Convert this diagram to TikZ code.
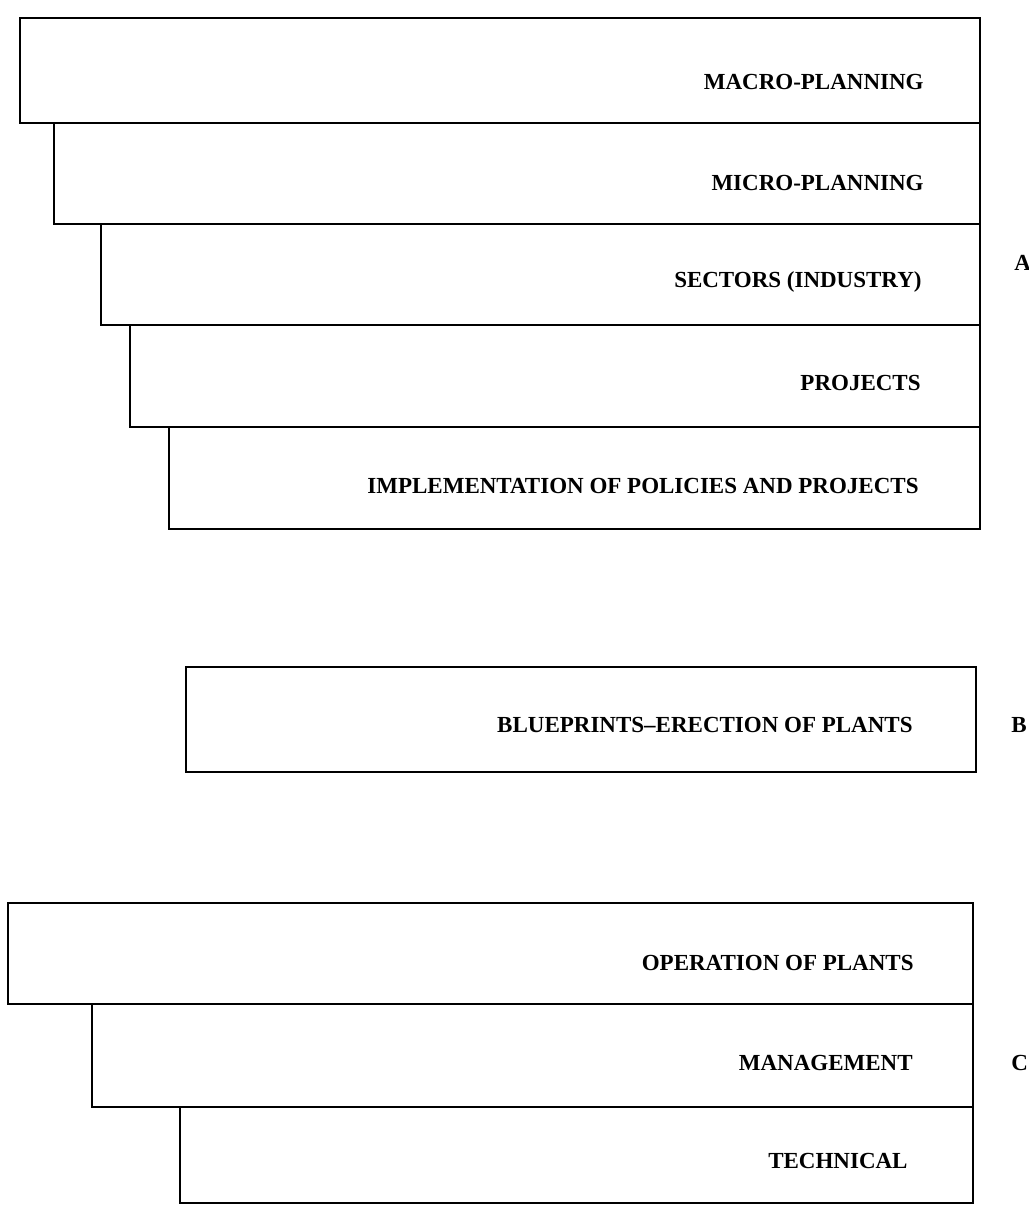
\documentclass[tikz,border=0pt]{standalone}
\usepackage{fontspec}
\setmainfont{Liberation Serif}
\newfontfamily\labfont{Liberation Serif}
\begin{document}
\begin{tikzpicture}[x=0.5pt,y=-0.5pt,
  box/.style={draw, line width=1.4pt, inner sep=0pt, outer sep=0pt, anchor=north west},
  lab/.style={anchor=base east, inner sep=0pt, font=\labfont\bfseries\fontsize{11.5}{14}\selectfont},
  side/.style={anchor=base west, inner sep=0pt, font=\labfont\bfseries\fontsize{11.5}{14}\selectfont}]
\useasboundingbox[fill=white] (0,0) rectangle (1029,1206);
% group A
\node[box, minimum width=480pt, minimum height=52.5pt] (a1) at (20,18) {};
\node[box, minimum width=463pt, minimum height=50.5pt] (a2) at (54,123) {};
\node[box, minimum width=439.5pt, minimum height=50.5pt] (a3) at (101,224) {};
\node[box, minimum width=425pt, minimum height=51pt] (a4) at (130,325) {};
\node[box, minimum width=405.5pt, minimum height=51pt] (a5) at (169,427) {};
\node[lab] (t1) at (924,89) {MACRO-PLANNING};
\node[lab] (t2) at (924,190) {MICRO-PLANNING};
\node[lab] (t3) at (922,287) {SECTORS (INDUSTRY)};
\node[lab] (t4) at (921,390) {PROJECTS};
\node[lab] (t5) at (919,493) {IMPLEMENTATION OF POLICIES AND PROJECTS};
\node[side] (la) at (1014,270) {A};
% group B
\node[box, minimum width=395pt, minimum height=52.5pt] (b1) at (186,667) {};
\node[lab] (t6) at (913,732) {BLUEPRINTS\textendash ERECTION OF PLANTS};
\node[side] (lb) at (1011,732) {B};
% group C
\node[box, minimum width=482.5pt, minimum height=50.5pt] (c1) at (8,903) {};
\node[box, minimum width=440.5pt, minimum height=51.5pt] (c2) at (92,1004) {};
\node[box, minimum width=396.5pt, minimum height=48pt] (c3) at (180,1107) {};
\node[lab] (t7) at (914,970) {OPERATION OF PLANTS};
\node[lab] (t8) at (913,1070) {MANAGEMENT};
\node[lab] (t9) at (908,1168) {TECHNICAL};
\node[side] (lc) at (1011,1070) {C};
\end{tikzpicture}
\end{document}
